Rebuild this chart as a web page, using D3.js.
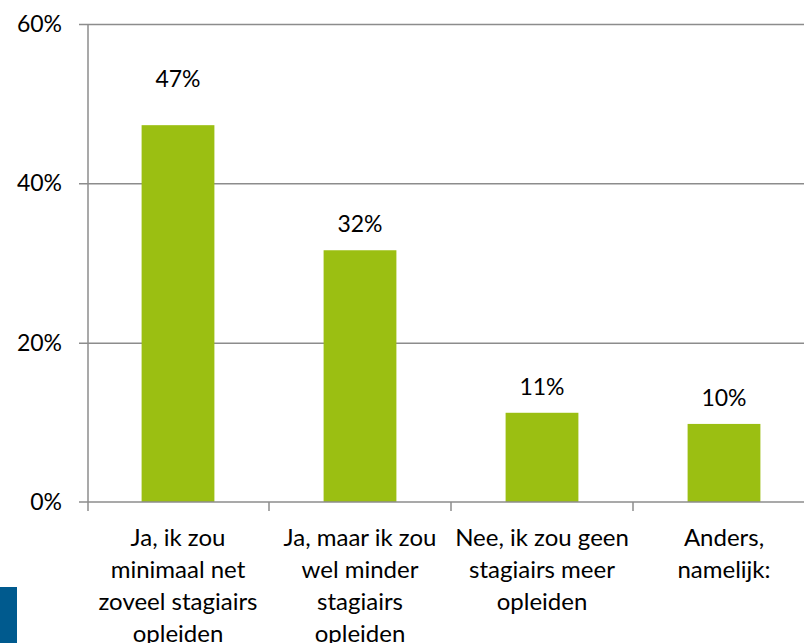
<!DOCTYPE html>
<html>
<head>
<meta charset="utf-8">
<script src="https://cdnjs.cloudflare.com/ajax/libs/d3/7.8.5/d3.min.js"></script>
<style>
  html, body { margin: 0; padding: 0; background: #fff; }
  svg { display: block; }
  text { font-family: Lato, "Open Sans", sans-serif; fill: #000; }
</style>
</head>
<body>
<div id="chart"></div>
<script>
// answers and share of respondents (%)
const categories = [
    ['Ja, ik zou', 'minimaal net', 'zoveel stagiairs', 'opleiden'],
    ['Ja, maar ik zou', 'wel minder', 'stagiairs', 'opleiden'],
    ['Nee, ik zou geen', 'stagiairs meer', 'opleiden'],
    ['Anders,', 'namelijk:']
];
const values = [47.3, 31.6, 11.2, 9.8];
const yTicks = [0, 20, 40, 60];

// the first data label was pulled up by hand in the original
const labelLift = [38, 18, 18, 18];

const width = 804;
const height = 643;
const margin = { top: 24, left: 88, bottom: 141 };
const bandWidth = 182;
const fontSize = '23px';

const svg = d3.select('#chart')
    .append('svg')
    .attr('width', width)
    .attr('height', height);

// band scale runs past the right edge, like the original
const x = d3.scaleBand()
    .domain(d3.range(categories.length))
    .range([margin.left - 1, margin.left - 1 + bandWidth * categories.length])
    .paddingInner(0.6)
    .paddingOuter(0.3);

const y = d3.scaleLinear()
    .domain([0, 60])
    .range([height - margin.bottom, margin.top]);

const gridColor = '#8c8c8c';

// gridlines + y labels
const yAxis = svg.append('g')
    .attr('transform', `translate(${margin.left},0)`)
    .call(d3.axisLeft(y).tickValues(yTicks).tickFormat(d => d + '%').tickSize(9).tickPadding(17));
yAxis.select('.domain').remove();
yAxis.selectAll('.tick line').attr('stroke', gridColor).attr('stroke-width', 1.5)
    .attr('x1', -9).attr('x2', d => d === 0 ? -9 : width - margin.left);
yAxis.selectAll('.tick text').style('font-size', fontSize).attr('fill', '#000');

svg.append('line')
    .attr('x1', margin.left).attr('x2', margin.left)
    .attr('y1', y(60)).attr('y2', y(0))
    .attr('stroke', gridColor).attr('stroke-width', 1.5);

// bars
svg.append('g')
    .selectAll('rect')
    .data(values)
    .enter().append('rect')
    .attr('x', (d, i) => x(i))
    .attr('width', x.bandwidth())
    .attr('y', d => y(d))
    .attr('height', d => y(0) - y(d))
    .attr('fill', '#9bbf12');

// value labels
svg.append('g')
    .selectAll('text')
    .data(values)
    .enter().append('text')
    .attr('x', (d, i) => x(i) + x.bandwidth() / 2)
    .attr('y', (d, i) => y(d) - labelLift[i])
    .attr('text-anchor', 'middle')
    .style('font-size', fontSize)
    .text(d => Math.round(d) + '%');

// x axis line and category boundary ticks
svg.append('line')
    .attr('x1', margin.left - 9).attr('x2', width)
    .attr('y1', y(0)).attr('y2', y(0))
    .attr('stroke', gridColor).attr('stroke-width', 1.5);

const step = x.step();
svg.append('g')
    .selectAll('line')
    .data(d3.range(categories.length + 1))
    .enter().append('line')
    .attr('x1', i => margin.left - 1 + i * step + (i === 0 ? 1 : 0))
    .attr('x2', i => margin.left - 1 + i * step + (i === 0 ? 1 : 0))
    .attr('y1', y(0)).attr('y2', y(0) + 9)
    .attr('stroke', gridColor).attr('stroke-width', 1.5);

// category labels (last line sits on the bottom edge, as in the original)
const catLabels = svg.append('g')
    .selectAll('text')
    .data(categories)
    .enter().append('text')
    .attr('text-anchor', 'middle')
    .attr('transform', (d, i) => `translate(${x(i) + x.bandwidth() / 2},${y(0) + 44})`)
    .style('font-size', '24px');

catLabels.selectAll('tspan')
    .data(d => d)
    .enter().append('tspan')
    .attr('x', 0)
    .attr('y', (d, i) => i * 32)
    .text(d => d);

// blue block in the bottom-left corner
svg.append('rect')
    .attr('x', 0).attr('y', 587)
    .attr('width', 17).attr('height', height - 587)
    .attr('fill', '#005a8e');
</script>
</body>
</html>
